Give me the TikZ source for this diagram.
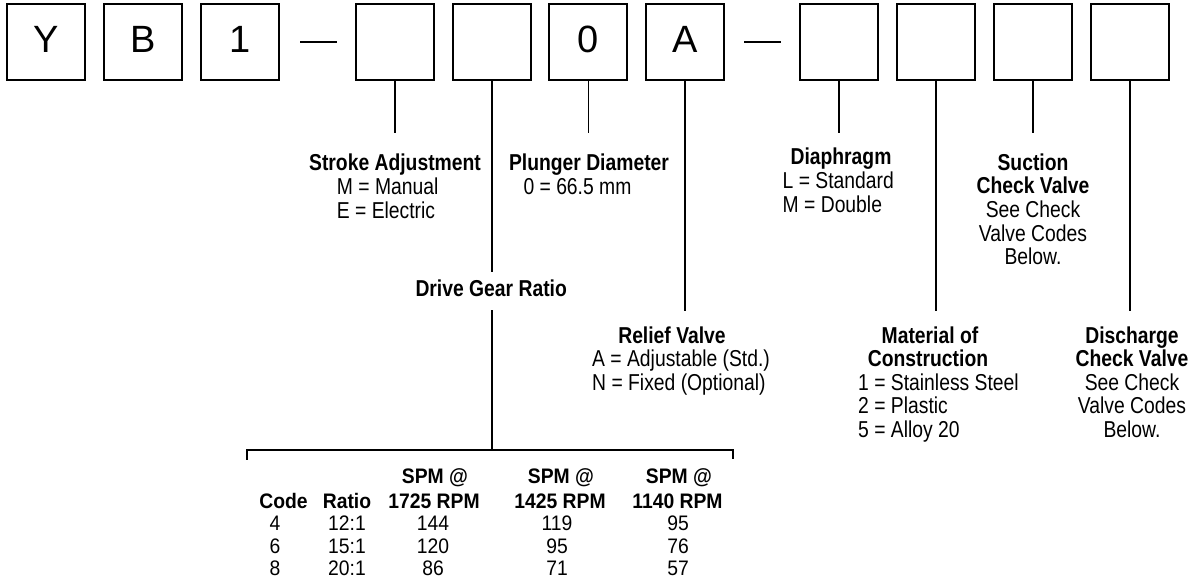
\documentclass[tikz,border=0pt]{standalone}
\usepackage{fontspec}
\newfontfamily\lblfam[FakeStretch=0.84]{Liberation Sans}
\newfontfamily\tabfam[FakeStretch=0.92]{Liberation Sans}
\newfontfamily\boxfam{Liberation Sans}
\newcommand{\lblfont}{\lblfam\fontsize{23pt}{25pt}\selectfont}
\newcommand{\tabfont}{\tabfam\fontsize{21pt}{23pt}\selectfont}
\newcommand{\boxfont}{\boxfam\fontsize{38pt}{42pt}\selectfont}
\begin{document}
\begin{tikzpicture}[x=1pt,y=-1pt,
  codebox/.style={draw,line width=2pt,minimum width=78pt,minimum height=76pt,inner sep=0pt,
    text height=27.3pt,text depth=6.7pt,font=\boxfont},
  conn/.style={line width=1.8pt},
  lbl/.style={inner sep=0pt,anchor=base,font=\lblfont},
  lbll/.style={inner sep=0pt,anchor=base west,font=\lblfont},
  hd/.style={inner sep=0pt,anchor=base,font=\lblfont\bfseries},
  tb/.style={inner sep=0pt,anchor=base,font=\tabfont},
  tbh/.style={inner sep=0pt,anchor=base,font=\tabfont\bfseries}]
\useasboundingbox (0,0) rectangle (1197,579);
\fill[white] (0,0) rectangle (1197,579);
% code boxes
\node[codebox] (bY) at (46.2,42) {Y};
\node[codebox] (bB) at (143.3,42) {B};
\node[codebox] (b1) at (240,42) {1};
\node[codebox] (b4) at (395,42) {};
\node[codebox] (b5) at (491.7,42) {};
\node[codebox] (b0) at (588.4,42) {0};
\node[codebox] (bA) at (685,42) {A};
\node[codebox] (b8) at (839,42) {};
\node[codebox] (b9) at (936,42) {};
\node[codebox] (b10) at (1033,42) {};
\node[codebox] (b11) at (1130,42) {};
% dashes
\coordinate (d1a) at (300,41.7); \coordinate (d1b) at (336.7,41.7);
\coordinate (d2a) at (744.3,41.7); \coordinate (d2b) at (780.7,41.7);
\draw[line width=2pt] (d1a) -- (d1b);
\draw[line width=2pt] (d2a) -- (d2b);
% line end points
\coordinate (eStroke) at (395,133.3);
\coordinate (eDriveA) at (491.7,271.7);
\coordinate (eDriveB) at (491.7,310);
\coordinate (eDriveC) at (491.7,450);
\coordinate (ePlunger) at (588.4,132.7);
\coordinate (eRelief) at (685,311);
\coordinate (eDiaph) at (839,133.3);
\coordinate (eMat) at (936,311);
\coordinate (eSuct) at (1033,132.5);
\coordinate (eDisch) at (1130,311);
\draw[conn] (b4.south) -- (eStroke);
\draw[conn] (b5.south) -- (eDriveA);
\draw[conn] (eDriveB) -- (eDriveC);
\draw[conn] (b0.south) -- (ePlunger);
\draw[conn] (bA.south) -- (eRelief);
\draw[conn] (b8.south) -- (eDiaph);
\draw[conn] (b9.south) -- (eMat);
\draw[conn] (b10.south) -- (eSuct);
\draw[conn] (b11.south) -- (eDisch);
% bracket
\coordinate (brL) at (246.7,459.5);
\coordinate (brLt) at (246.7,450);
\coordinate (brRt) at (732.7,450);
\coordinate (brR) at (732.7,458.5);
\draw[conn,line join=miter] (brL) -- (brLt) -- (brRt) -- (brR);
% labels: stroke adjustment
\node[hd] (tStroke) at (395,170.5) {Stroke Adjustment};
\node[lbll] (tStroke1) at (336.7,194.3) {M = Manual};
\node[lbll] (tStroke2) at (336.7,218.3) {E = Electric};
% plunger diameter
\node[hd] (tPlung) at (589,170.5) {Plunger Diameter};
\node[lbll] (tPlung1) at (523.3,194.3) {0 = 66.5 mm};
% diaphragm
\node[hd] (tDia) at (841,164) {Diaphragm};
\node[lbll] (tDia1) at (782.5,188) {L = Standard};
\node[lbll] (tDia2) at (782.5,212) {M = Double};
% suction
\node[hd] (tSuc) at (1033,170) {Suction};
\node[hd] (tSuc1) at (1033,193.8) {Check Valve};
\node[lbl] (tSuc2) at (1033,217.5) {See Check};
\node[lbl] (tSuc3) at (1033,241) {Valve Codes};
\node[lbl] (tSuc4) at (1033,264.5) {Below.};
% drive gear ratio
\node[hd] (tDrive) at (491.2,296.7) {Drive Gear Ratio};
% relief valve
\node[hd] (tRel) at (672,343) {Relief Valve};
\node[lbll] (tRel1) at (592,366.5) {A = Adjustable (Std.)};
\node[lbll] (tRel2) at (592,390) {N = Fixed (Optional)};
% material
\node[hd] (tMat) at (930,343) {Material of};
\node[hd] (tMat0) at (928,366.5) {Construction};
\node[lbll] (tMat1) at (858,390) {1 = Stainless Steel};
\node[lbll] (tMat2) at (858,413.5) {2 = Plastic};
\node[lbll] (tMat3) at (858,437) {5 = Alloy 20};
% discharge
\node[hd] (tDis) at (1132,343) {Discharge};
\node[hd] (tDis1) at (1132,366.5) {Check Valve};
\node[lbl] (tDis2) at (1132,390) {See Check};
\node[lbl] (tDis3) at (1132,413.5) {Valve Codes};
\node[lbl] (tDis4) at (1132,437) {Below.};
% table
\node[tbh] (hS1) at (435,483.3) {SPM @};
\node[tbh] (hS2) at (561,483.3) {SPM @};
\node[tbh] (hS3) at (679,483.3) {SPM @};
\node[tbh] (hCode) at (283.5,508) {Code};
\node[tbh] (hRatio) at (347,508) {Ratio};
\node[tbh] (hR1) at (434,508) {1725 RPM};
\node[tbh] (hR2) at (560,508) {1425 RPM};
\node[tbh] (hR3) at (677.5,508) {1140 RPM};
\node[tb] (c1) at (275,530.7) {4};
\node[tb] (r1) at (347,530.7) {12:1};
\node[tb] (a1) at (433,530.7) {144};
\node[tb] (m1) at (557,530.7) {119};
\node[tb] (s1) at (678,530.7) {95};
\node[tb] (c2) at (275,553) {6};
\node[tb] (r2) at (347,553) {15:1};
\node[tb] (a2) at (433,553) {120};
\node[tb] (m2) at (557,553) {95};
\node[tb] (s2) at (678,553) {76};
\node[tb] (c3) at (275,575.3) {8};
\node[tb] (r3) at (347,575.3) {20:1};
\node[tb] (a3) at (433,575.3) {86};
\node[tb] (m3) at (557,575.3) {71};
\node[tb] (s3) at (678,575.3) {57};
\end{tikzpicture}
\end{document}
